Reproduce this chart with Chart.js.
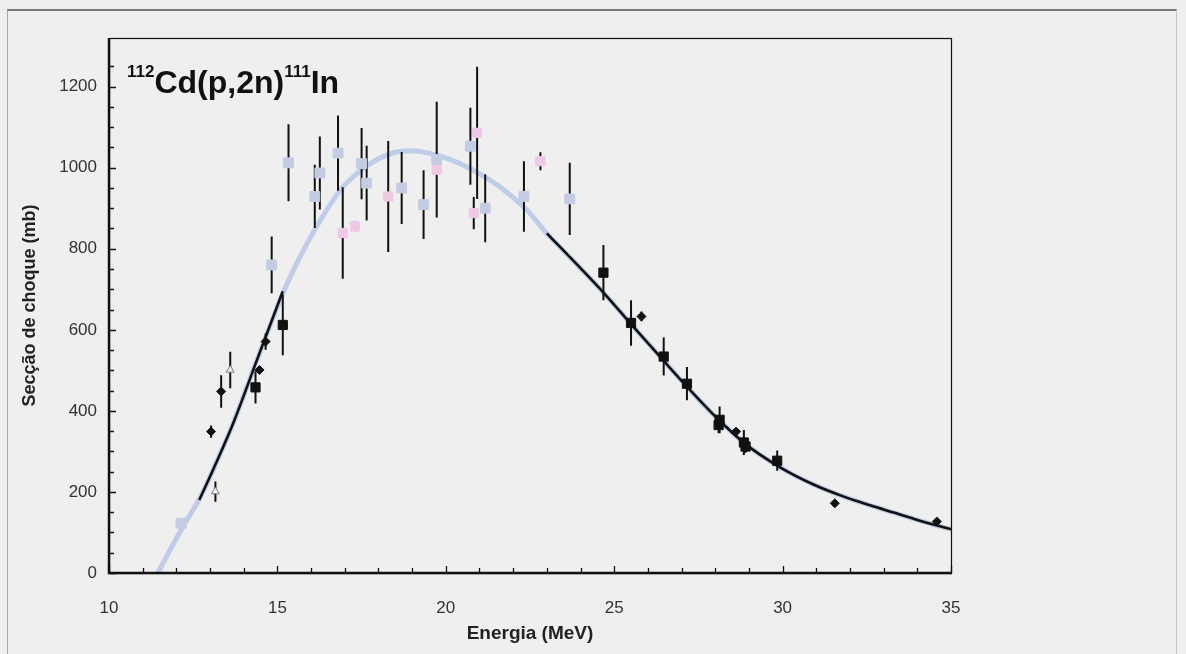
<!DOCTYPE html>
<html><head><meta charset="utf-8">
<script src="https://cdn.jsdelivr.net/npm/chart.js@4.4.1/dist/chart.umd.min.js"></script>
<style>
html,body{margin:0;padding:0;background:#efefef;}
#wrap{position:relative;width:1186px;height:654px;overflow:hidden;background:#efefef;}
#frame{position:absolute;left:7px;top:9px;width:1168px;height:660px;border-top:2px solid #7a7a7a;border-left:1px solid #a8a8a8;border-right:1px solid #c8c8c8;}
canvas{position:absolute;left:0;top:0;}
#ttl{position:absolute;left:127px;top:66px;font:bold 32px "Liberation Sans",Arial,sans-serif;line-height:32px;color:#111;white-space:nowrap;}
#ttl span{font-size:17px;position:relative;top:-16px;}
</style></head><body>
<div id="wrap"><div id="frame"></div><canvas id="c" width="1186" height="654"></canvas>
<div id="ttl"><span>112</span>Cd(p,2n)<span>111</span>In</div></div>
<script>
// tick labels
const xLabelValues = [10, 15, 20, 25, 30, 35];
const yLabelValues = [0, 200, 400, 600, 800, 1000, 1200];

// light blue data points (E in MeV, cross-section in mb, error)
const blueE   = [12.14, 14.83, 15.33, 16.11, 16.26, 16.80, 17.50, 17.65, 18.69, 19.34, 19.73, 20.73, 21.17, 22.32, 23.68];
const blueS   = [123,   760,   1012,  929,   987,   1036,  1010,  962,   950,   909,   1020,  1053,  900,   929,   923];
const blueErr = [0,     70,    95,    78,    90,    93,    88,    92,    89,    85,    143,   95,    84,    87,    89];

// pink data points
const pinkE   = [16.94, 17.30, 18.29, 19.73, 20.93, 20.83, 22.81];
const pinkS   = [839,   855,   929,   995,   1086,  888,   1016];
const pinkErr = [113,   12,    137,   0,     163,   40,    22];

// black squares
const sqE   = [14.35, 15.16, 24.68, 25.50, 26.47, 27.16, 28.13, 28.10, 28.85, 28.90, 29.84];
const sqS   = [458,   612,   741,   617,   534,   467,   378,   365,   322,   312,   277];
const sqErr = [40,    75,    68,    56,    47,    41,    33,    20,    31,    15,    25];

// small black diamonds
const diaE   = [13.03, 13.33, 14.47, 14.65, 25.81, 28.62, 31.55, 34.58];
const diaS   = [349,   448,   501,   571,   633,   349,   172,   127];
const diaErr = [15,    40,    10,    20,    12,    0,     0,     0];

// open (white) points
const openE   = [13.16, 13.60];
const openS   = [201,   501];
const openErr = [25,    45];

// fitted curve (light blue)
const curveE = [11.45, 11.8, 12.2, 12.7, 13.2, 13.7, 14.4, 15.2, 15.7, 16.2, 16.9, 17.5, 18.0, 18.5, 19.0, 19.5, 20.0, 20.6, 21.2, 21.6, 22.4, 23.0, 24.0, 24.7, 25.5, 26.4, 27.2, 28.1, 28.9, 29.9, 30.9, 31.8, 32.6, 33.3, 34.0, 34.5, 35.0];
const curveS = [0,     55,   115,  185,  275,  372,  527,  697,  785,  860,  948,  995,  1022, 1038, 1042, 1036, 1024, 1003, 975,  953,  896,  838,  752,  690,  614,  530,  456,  378,  318,  262,  219,  189,  167,  149,  131,  119,  108];

// black curve segments
const black1E = [12.68, 13.2, 13.7, 14.4, 15.16];
const black1S = [180,   275,  372,  527,  695];
const black2E = [23.0, 24.0, 24.7, 25.5, 26.4, 27.2, 28.1, 28.9, 29.9, 30.9, 31.8, 32.6, 33.3, 34.0, 34.5, 35.0];
const black2S = [838,  752,  690,  614,  530,  456,  378,  318,  262,  219,  189,  167,  149,  131,  119,  108];

function pts(E, S) { return E.map((e, i) => ({x: e, y: S[i]})); }
function bars(E, S, R) {
  const out = [];
  E.forEach((e, i) => { if (R[i] > 0) out.push({x: e, y: S[i] - R[i]}, {x: e, y: S[i] + R[i]}, {x: e, y: null}); });
  return out;
}
const allBars = [].concat(
  bars(blueE, blueS, blueErr), bars(pinkE, pinkS, pinkErr), bars(sqE, sqS, sqErr),
  bars(diaE, diaS, diaErr), bars(openE, openS, openErr));

const framePlugin = {
  id: 'frameTicks',
  afterDatasetsDraw(chart) {
    const {ctx, chartArea: a, scales: {x, y}} = chart;
    ctx.save();
    ctx.strokeStyle = '#111';
    ctx.lineWidth = 1.3;
    ctx.beginPath();
    x.ticks.forEach(t => {
      const px = Math.round(x.getPixelForValue(t.value)) + 0.5;
      const len = (t.value % 5 === 0) ? 7 : 5;
      ctx.moveTo(px, a.bottom); ctx.lineTo(px, a.bottom - len);
    });
    y.ticks.forEach(t => {
      if (t.value % 50 !== 0) return;
      const py = Math.round(y.getPixelForValue(t.value)) + 0.5;
      const len = (t.value % 200 === 0) ? 7 : 5;
      ctx.moveTo(a.left, py); ctx.lineTo(a.left + len, py);
    });
    ctx.stroke();
    ctx.lineWidth = 1.2;
    ctx.strokeRect(a.left + 0.5, a.top + 0.5, a.right - a.left, a.bottom - a.top);
    ctx.lineWidth = 2.5;
    ctx.beginPath();
    ctx.moveTo(a.left, a.top); ctx.lineTo(a.left, a.bottom); ctx.lineTo(a.right + 1, a.bottom);
    ctx.stroke();
    ctx.restore();
  }
};

new Chart(document.getElementById('c'), {
  type: 'scatter',
  data: {
    datasets: [
      {label: 'blue', data: pts(blueE, blueS), pointStyle: 'rect', pointRadius: 7, backgroundColor: '#c3cce2', borderColor: '#c3cce2', borderWidth: 1, order: 0},
      {label: 'pink', data: pts(pinkE, pinkS), pointStyle: 'rect', pointRadius: 6.5, backgroundColor: '#efc8e6', borderColor: '#efc8e6', borderWidth: 1, order: 0},
      {label: 'open', data: pts(openE, openS), pointStyle: 'triangle', pointRadius: 4.5, backgroundColor: '#f6f6fa', borderColor: '#777', borderWidth: 1, order: 0},
      {label: 'squares', data: pts(sqE, sqS), pointStyle: 'rect', pointRadius: 6.5, backgroundColor: '#111', borderColor: '#111', borderWidth: 1, order: 0},
      {label: 'diamonds', data: pts(diaE, diaS), pointStyle: 'rectRot', pointRadius: 4.5, backgroundColor: '#111', borderColor: '#111', borderWidth: 1, order: 0},
      {label: 'errors', data: allBars, showLine: true, spanGaps: false, pointRadius: 0, borderColor: '#111', borderWidth: 2, order: 1},
      {label: 'fit black 1', data: pts(black1E, black1S), showLine: true, pointRadius: 0, borderColor: '#111', borderWidth: 2.6, cubicInterpolationMode: 'monotone', order: 2},
      {label: 'fit black 2', data: pts(black2E, black2S), showLine: true, pointRadius: 0, borderColor: '#111', borderWidth: 2.6, cubicInterpolationMode: 'monotone', order: 2},
      {label: 'fit', data: pts(curveE, curveS), showLine: true, pointRadius: 0, borderColor: '#bfcde8', borderWidth: 5, cubicInterpolationMode: 'monotone', order: 3}
    ]
  },
  options: {
    responsive: false,
    devicePixelRatio: 1,
    animation: false,
    events: [],
    layout: {padding: {left: 0, top: 38, right: 235, bottom: 0}},
    plugins: {legend: {display: false}, tooltip: {enabled: false}},
    scales: {
      x: {
        type: 'linear', min: 10, max: 35,
        afterFit(s) { s.height = 81; },
        grid: {display: false, drawTicks: false},
        border: {display: false},
        ticks: {stepSize: 1, autoSkip: false, maxRotation: 0, padding: 25, color: '#333',
          font: {family: 'Liberation Sans', size: 17},
          callback: v => xLabelValues.includes(v) ? String(v) : ''},
        title: {display: true, text: 'Energia (MeV)', color: '#222',
          font: {family: 'Liberation Sans', size: 19, weight: 'bold'}, padding: {top: 0, bottom: 9}}
      },
      y: {
        type: 'linear', min: 0, max: 1320,
        afterFit(s) { s.width = 109; },
        grid: {display: false, drawTicks: false},
        border: {display: false},
        ticks: {stepSize: 50, autoSkip: false, padding: 12, color: '#333',
          font: {family: 'Liberation Sans', size: 17},
          callback: v => yLabelValues.includes(v) ? String(v) : ''},
        title: {display: true, text: 'Secção de choque (mb)', color: '#222',
          font: {family: 'Liberation Sans', size: 18, weight: 'bold'}, padding: {top: 19, bottom: 0}}
      }
    }
  },
  plugins: [framePlugin]
});
</script>
</body></html>
